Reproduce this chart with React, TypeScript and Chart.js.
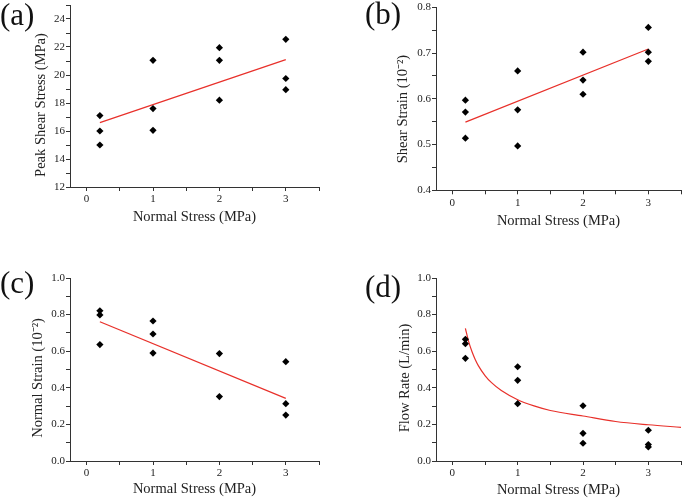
import React, { useEffect, useRef } from 'react';
import { Chart, registerables } from 'chart.js';
Chart.register(...registerables);

// ---- Data ----
const stressA = [0.2, 0.2, 0.2, 1, 1, 1, 2, 2, 2, 3, 3, 3];
const peakShear = [17.1, 16.0, 15.0, 21.05, 17.6, 16.05, 21.95, 21.05, 18.2, 22.55, 19.75, 18.95];
const peakShearFitX = [0.2, 3];
const peakShearFitY = [16.6, 21.1];

const stressB = [0.2, 0.2, 0.2, 1, 1, 1, 2, 2, 2, 3, 3, 3];
const shearStrain = [0.597, 0.571, 0.514, 0.661, 0.576, 0.497, 0.702, 0.641, 0.61, 0.756, 0.702, 0.682];
const shearStrainFitX = [0.2, 3];
const shearStrainFitY = [0.549, 0.709];

const stressC = [0.2, 0.2, 0.2, 1, 1, 1, 2, 2, 3, 3, 3];
const normalStrain = [0.821, 0.798, 0.636, 0.765, 0.694, 0.59, 0.587, 0.352, 0.543, 0.313, 0.251];
const normalStrainFitX = [0.2, 3];
const normalStrainFitY = [0.761, 0.342];

const stressD = [0.2, 0.2, 0.2, 1, 1, 1, 2, 2, 2, 3, 3, 3];
const flowRate = [0.665, 0.641, 0.561, 0.515, 0.441, 0.313, 0.302, 0.151, 0.097, 0.168, 0.09, 0.077];
const flowFitX = [0.2, 0.25, 0.3, 0.35, 0.4, 0.5, 0.6, 0.75, 1, 1.25, 1.5, 2, 2.5, 3, 3.5];
const flowFitY = [0.725, 0.652, 0.598, 0.555, 0.52, 0.467, 0.428, 0.385, 0.335, 0.301, 0.276, 0.246, 0.216, 0.198, 0.184];

const xTickValues = [0, 0.5, 1, 1.5, 2, 2.5, 3, 3.5];
const xTickLabels = ['0', '', '1', '', '2', '', '3', ''];

const SERIF = '"Liberation Serif", "Times New Roman", serif';
const INK = '#222';
const RED = '#e8302a';

type Panel = {
  label: string;
  labelLeft: number;
  labelTop: number;
  left: number;
  top: number;
  width: number;
  height: number;
  area: { left: number; top: number; right: number; bottom: number };
  xH: number;
  yMin: number;
  yMax: number;
  yMajor: number;
  yMinor: number;
  yDec: number;
  yTitle: string;
  yTitleX: number;
  yTitleY: number;
  xs: number[];
  ys: number[];
  fitX: number[];
  fitY: number[];
  smooth: boolean;
};

const panels: Panel[] = [
  {
    label: '(a)', labelLeft: 0, labelTop: -1,
    left: 0, top: 0, width: 340, height: 250,
    area: { left: 70, top: 5, right: 319, bottom: 187 }, xH: 38.7,
    yMin: 12, yMax: 25, yMajor: 2, yMinor: 1, yDec: 0,
    yTitle: 'Peak Shear Stress (MPa)', yTitleX: 40.7, yTitleY: 105,
    xs: stressA, ys: peakShear, fitX: peakShearFitX, fitY: peakShearFitY, smooth: false,
  },
  {
    label: '(b)', labelLeft: 365, labelTop: -2,
    left: 340, top: 0, width: 345, height: 250,
    area: { left: 96, top: 7.3, right: 345, bottom: 190.3 }, xH: 39.7,
    yMin: 0.4, yMax: 0.8, yMajor: 0.1, yMinor: 0.05, yDec: 1,
    yTitle: 'Shear Strain (10\u207B\u00B2)', yTitleX: 63.3, yTitleY: 109,
    xs: stressB, ys: shearStrain, fitX: shearStrainFitX, fitY: shearStrainFitY, smooth: false,
  },
  {
    label: '(c)', labelLeft: 0, labelTop: 267,
    left: 0, top: 250, width: 340, height: 249,
    area: { left: 70, top: 28, right: 319, bottom: 211 }, xH: 37.3,
    yMin: 0, yMax: 1, yMajor: 0.2, yMinor: 0.1, yDec: 1,
    yTitle: 'Normal Strain (10\u207B\u00B2)', yTitleX: 38.3, yTitleY: 128,
    xs: stressC, ys: normalStrain, fitX: normalStrainFitX, fitY: normalStrainFitY, smooth: false,
  },
  {
    label: '(d)', labelLeft: 365, labelTop: 271,
    left: 340, top: 250, width: 345, height: 249,
    area: { left: 96, top: 28, right: 345, bottom: 211 }, xH: 38,
    yMin: 0, yMax: 1, yMajor: 0.2, yMinor: 0.1, yDec: 1,
    yTitle: 'Flow Rate (L/min)', yTitleX: 65, yTitleY: 128,
    xs: stressD, ys: flowRate, fitX: flowFitX, fitY: flowFitY, smooth: true,
  },
];

const yTitlePlugin = {
  id: 'ytitle',
  afterDraw(chart: any, _args: any, opts: any) {
    const ctx = chart.ctx;
    ctx.save();
    ctx.translate(opts.x, opts.y);
    ctx.rotate(-Math.PI / 2);
    ctx.font = `14.5px ${SERIF}`;
    ctx.fillStyle = INK;
    ctx.textAlign = 'center';
    ctx.textBaseline = 'middle';
    ctx.fillText(opts.text, 0, 0);
    ctx.restore();
  },
};

function PanelChart({ p }: { p: Panel }) {
  const ref = useRef<HTMLCanvasElement>(null);
  useEffect(() => {
    if (!ref.current) return;
    const n = Math.round((p.yMax - p.yMin) / p.yMinor);
    const yTicks: number[] = [];
    for (let i = 0; i <= n; i++) yTicks.push(Math.round((p.yMin + i * p.yMinor) * 10000) / 10000);
    const isMajor = (v: number) => {
      const r = (v - p.yMin) / p.yMajor;
      return Math.abs(r - Math.round(r)) < 1e-6;
    };
    const chart = new Chart(ref.current, {
      type: 'scatter',
      data: {
        datasets: [
          {
            type: 'scatter',
            data: p.xs.map((x, i) => ({ x, y: p.ys[i] })),
            pointStyle: 'rectRot',
            pointRadius: 3.6,
            backgroundColor: '#000',
            borderColor: '#000',
            borderWidth: 0,
            order: 0,
          } as any,
          {
            type: 'line',
            data: p.fitX.map((x, i) => ({ x, y: p.fitY[i] })),
            borderColor: RED,
            borderWidth: 1.2,
            pointRadius: 0,
            fill: false,
            showLine: true,
            tension: p.smooth ? 0.4 : 0,
            cubicInterpolationMode: p.smooth ? 'monotone' : 'default',
            order: 1,
          } as any,
        ],
      },
      options: {
        responsive: false,
        animation: false,
        devicePixelRatio: 1,
        layout: {
          padding: {
            left: 0,
            top: p.area.top,
            right: p.width - p.area.right,
            bottom: p.height - p.area.bottom - p.xH,
          },
        },
        plugins: {
          legend: { display: false },
          tooltip: { enabled: false },
          ytitle: { text: p.yTitle, x: p.yTitleX, y: p.yTitleY },
        } as any,
        scales: {
          x: {
            type: 'linear',
            min: -0.25,
            max: 3.5,
            afterBuildTicks: (scale: any) => {
              scale.ticks = xTickValues.map((v) => ({ value: v }));
            },
            afterFit: (scale: any) => {
              scale.height = p.xH;
              scale.paddingLeft = 0;
              scale.paddingRight = 0;
            },
            ticks: {
              autoSkip: false,
              maxRotation: 0,
              padding: 2,
              color: INK,
              font: { family: SERIF, size: 11 },
              callback: (v: any) => {
                const idx = xTickValues.indexOf(Number(v));
                return idx >= 0 ? xTickLabels[idx] : '';
              },
            },
            grid: {
              display: true,
              drawOnChartArea: false,
              drawTicks: true,
              tickLength: 4,
              tickColor: '#333',
              tickWidth: 1,
            },
            border: { display: true, color: '#333', width: 1 },
            title: {
              display: true,
              text: 'Normal Stress (MPa)',
              color: INK,
              font: { family: SERIF, size: 14.5 },
              padding: { top: 0, bottom: 0 },
            },
          },
          y: {
            type: 'linear',
            min: p.yMin,
            max: p.yMax,
            afterBuildTicks: (scale: any) => {
              scale.ticks = yTicks.map((v) => ({ value: v }));
            },
            afterFit: (scale: any) => {
              scale.width = p.area.left;
              scale.paddingTop = 0;
              scale.paddingBottom = 0;
            },
            ticks: {
              autoSkip: false,
              padding: 1,
              color: INK,
              font: { family: SERIF, size: 11 },
              callback: (v: any) => (isMajor(Number(v)) ? Number(v).toFixed(p.yDec) : ''),
            },
            grid: {
              display: true,
              drawOnChartArea: false,
              drawTicks: true,
              tickLength: 4,
              tickColor: '#333',
              tickWidth: 1,
            },
            border: { display: true, color: '#333', width: 1 },
          },
        },
      },
      plugins: [yTitlePlugin as any],
    });
    return () => chart.destroy();
  }, []);
  return (
    <canvas
      ref={ref}
      width={p.width}
      height={p.height}
      style={{ position: 'absolute', left: p.left, top: p.top, width: p.width, height: p.height, display: 'block' }}
    />
  );
}

export default function App() {
  return (
    <div style={{ position: 'absolute', left: 0, top: 0, width: 685, height: 499, background: '#fff', overflow: 'hidden' }}>
      {panels.map((p) => (
        <PanelChart key={p.label} p={p} />
      ))}
      {panels.map((p) => (
        <div
          key={'lbl' + p.label}
          style={{
            position: 'absolute',
            left: p.labelLeft,
            top: p.labelTop,
            fontFamily: SERIF,
            fontSize: 31,
            lineHeight: '31px',
            color: '#111',
            whiteSpace: 'nowrap',
          }}
        >
          {p.label}
        </div>
      ))}
    </div>
  );
}
